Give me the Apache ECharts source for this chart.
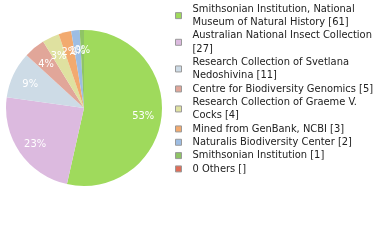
<!DOCTYPE html>
<html><head><meta charset="utf-8">
<script src="https://cdn.jsdelivr.net/npm/echarts@6/dist/echarts.min.js"></script>
<style>html,body{margin:0;padding:0;background:#fff}#c{width:380px;height:240px}</style>
</head><body><div id="c"></div>
<script>
const categories = [
  "Smithsonian Institution, National Museum of Natural History",
  "Australian National Insect Collection",
  "Research Collection of Svetlana Nedoshivina",
  "Centre for Biodiversity Genomics",
  "Research Collection of Graeme V. Cocks",
  "Mined from GenBank, NCBI",
  "Naturalis Biodiversity Center",
  "Smithsonian Institution",
  "0 Others"
];
const values = [61, 27, 11, 5, 4, 3, 2, 1, 0];
const legendLabels = [
  "Smithsonian Institution, National\nMuseum of Natural History [61]",
  "Australian National Insect Collection\n[27]",
  "Research Collection of Svetlana\nNedoshivina [11]",
  "Centre for Biodiversity Genomics [5]",
  "Research Collection of Graeme V.\nCocks [4]",
  "Mined from GenBank, NCBI [3]",
  "Naturalis Biodiversity Center [2]",
  "Smithsonian Institution [1]",
  "0 Others []"
];
const colors = ["#9fda5c", "#dcbadf", "#cddbe6", "#e1a699", "#dfe1a0", "#f2aa6f", "#9dbde3", "#8fc466", "#e06d58"];

const total = values.reduce((a, b) => a + b, 0);
const data = categories.map((n, i) => ({
  name: n, value: values[i],
  itemStyle: { color: colors[i] }
}));
const labelData = categories.map((n, i) => ({
  name: n, value: values[i],
  label: { show: values[i] > 0 }
}));

const chart = echarts.init(document.getElementById('c'), null, { renderer: 'canvas' });
chart.setOption({
  animation: false,
  legend: {
    orient: 'vertical',
    left: 175, top: 2.3, padding: 0,
    itemWidth: 6, itemHeight: 6,
    itemGap: 0,
    icon: 'rect',
    selectedMode: false,
    itemStyle: { borderColor: '#999', borderWidth: 1 },
    textStyle: { fontFamily: 'DejaVu Sans Condensed', fontSize: 11, color: '#222', lineHeight: 13.33, padding: [0, 0, 0, 6] },
    formatter: name => legendLabels[categories.indexOf(name)],
    data: categories
  },
  series: [
    {
      type: 'pie', center: [84, 108], radius: 78,
      startAngle: 90, clockwise: true,
      avoidLabelOverlap: false,
      label: { show: false }, labelLine: { show: false },
      emphasis: { disabled: true },
      itemStyle: { borderWidth: 0 },
      data: data
    },
    {
      type: 'pie', center: [84, 110], radius: [35, 78],
      startAngle: 90, clockwise: true, silent: true,
      avoidLabelOverlap: false,
      labelLayout: { hideOverlap: false },
      itemStyle: { color: 'rgba(0,0,0,0)', borderWidth: 0 },
      label: {
        position: 'inside', color: '#fff', fontFamily: 'DejaVu Sans Condensed', fontSize: 11,
        formatter: p => Math.floor(p.value / total * 100) + '%'
      },
      labelLine: { show: false },
      emphasis: { disabled: true },
      data: labelData
    }
  ]
});
</script></body></html>
